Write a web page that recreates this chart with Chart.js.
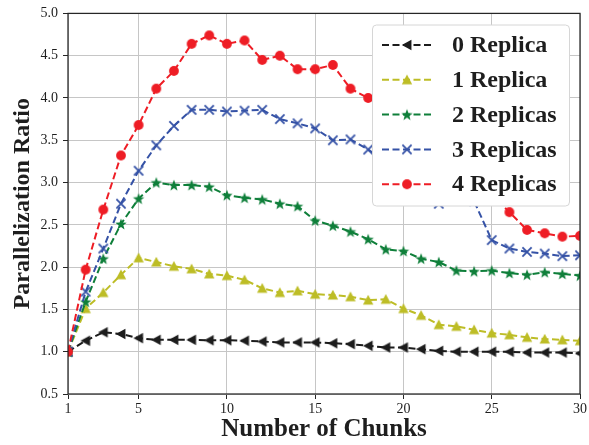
<!DOCTYPE html>
<html>
<head>
<meta charset="utf-8">
<title>Parallelization Ratio vs Number of Chunks</title>
<script src="https://cdn.jsdelivr.net/npm/chart.js@4.4.0/dist/chart.umd.min.js"></script>
<style>
  html, body { margin: 0; padding: 0; background: #ffffff; }
  canvas { display: block; }
</style>
</head>
<body>
<canvas id="c" width="589" height="445"></canvas>
<script>
// Number of chunks (x values)
const chunks = [1, 2, 3, 4, 5, 6, 7, 8, 9, 10, 11, 12, 13, 14, 15,
                16, 17, 18, 19, 20, 21, 22, 23, 24, 25, 26, 27, 28, 29, 30];

// Parallelization ratio per replica count
const replica0 = [1.00, 1.13, 1.23, 1.21, 1.16, 1.14, 1.14, 1.14, 1.135, 1.135,
                  1.13, 1.12, 1.11, 1.11, 1.11, 1.10, 1.09, 1.07, 1.05, 1.05,
                  1.03, 1.01, 1.00, 1.00, 1.00, 1.00, 0.99, 0.99, 0.99, 0.98];
const replica1 = [1.00, 1.51, 1.70, 1.91, 2.11, 2.06, 2.01, 1.98, 1.92, 1.90,
                  1.85, 1.75, 1.70, 1.72, 1.68, 1.67, 1.65, 1.61, 1.62, 1.51,
                  1.43, 1.32, 1.30, 1.26, 1.22, 1.20, 1.17, 1.15, 1.14, 1.13];
const replica2 = [1.00, 1.59, 2.10, 2.51, 2.81, 3.00, 2.97, 2.97, 2.95, 2.85,
                  2.82, 2.80, 2.75, 2.72, 2.55, 2.49, 2.42, 2.33, 2.21, 2.19,
                  2.10, 2.06, 1.96, 1.95, 1.96, 1.93, 1.91, 1.94, 1.92, 1.90];
const replica3 = [1.00, 1.71, 2.22, 2.75, 3.14, 3.44, 3.67, 3.86, 3.86, 3.84,
                  3.85, 3.86, 3.75, 3.70, 3.64, 3.50, 3.51, 3.39, 3.25, 3.08,
                  2.90, 2.75, 2.80, 2.78, 2.32, 2.22, 2.18, 2.16, 2.13, 2.14];
const replica4 = [1.00, 1.97, 2.68, 3.32, 3.68, 4.11, 4.32, 4.64, 4.74, 4.64,
                  4.68, 4.45, 4.50, 4.34, 4.34, 4.39, 4.11, 4.00, 3.96, 3.84,
                  3.70, 3.52, 3.33, 3.10, 2.86, 2.65, 2.44, 2.40, 2.36, 2.37];

const seriesLabels = ['0 Replica', '1 Replica', '2 Replicas', '3 Replicas', '4 Replicas'];
const seriesValues = [replica0, replica1, replica2, replica3, replica4];

// Axis ticks
const xTicks = [1, 5, 10, 15, 20, 25, 30];
const yMin = 0.5, yMax = 5.0, yStep = 0.5;

const SERIF = "'Liberation Serif', 'Times New Roman', serif";
const INK = '#1e1e1e';

// Series styling
const seriesColors = ['#1c1c1c', '#bdbd26', '#0f7f3a', '#3552a6', '#ee1d25'];
const seriesMarkers = ['triLeft', 'triUp', 'star', 'x', 'circle'];

// Build a small canvas for each marker shape
function makeMarker(kind, color) {
  const d = 16;
  const c = document.createElement('canvas');
  c.width = d; c.height = d;
  const g = c.getContext('2d');
  const m = d / 2;
  g.fillStyle = color;
  g.strokeStyle = color;
  g.beginPath();
  if (kind === 'circle') {
    g.arc(m, m, 4.9, 0, Math.PI * 2);
    g.fill();
  } else if (kind === 'triUp') {
    const r = 5.2;
    g.moveTo(m, m - r);
    g.lineTo(m + r, m + r * 0.85);
    g.lineTo(m - r, m + r * 0.85);
    g.closePath();
    g.fill();
  } else if (kind === 'triLeft') {
    const r = 5.2;
    g.moveTo(m - r, m);
    g.lineTo(m + r * 0.85, m - r);
    g.lineTo(m + r * 0.85, m + r);
    g.closePath();
    g.fill();
  } else if (kind === 'x') {
    const r = 4.6;
    g.lineWidth = 1.8;
    g.moveTo(m - r, m - r); g.lineTo(m + r, m + r);
    g.moveTo(m + r, m - r); g.lineTo(m - r, m + r);
    g.stroke();
  } else if (kind === 'star') {
    const ro = 6.0, ri = 2.5;
    for (let i = 0; i < 10; i++) {
      const ang = -Math.PI / 2 + i * Math.PI / 5;
      const rr = i % 2 === 0 ? ro : ri;
      const px = m + rr * Math.cos(ang), py = m + 0.6 + rr * Math.sin(ang);
      if (i === 0) g.moveTo(px, py); else g.lineTo(px, py);
    }
    g.closePath();
    g.fill();
  }
  return c;
}

const markerImages = seriesMarkers.map((k, i) => makeMarker(k, seriesColors[i]));
const DASH = [7, 3.5];

const datasets = seriesValues.map((vals, i) => ({
  label: seriesLabels[i],
  data: chunks.map((x, j) => ({ x: x, y: vals[j] })),
  borderColor: seriesColors[i],
  backgroundColor: seriesColors[i],
  borderWidth: 2,
  borderDash: DASH,
  pointStyle: markerImages[i],
  pointRadius: 5,
  pointHoverRadius: 5,
  tension: 0,
  fill: false,
  clip: 0,
  order: seriesValues.length - 1 - i
}));

// Axes frame drawn on top of the data
const framePlugin = {
  id: 'frame',
  afterDatasetsDraw(chart) {
    const { ctx, chartArea: a } = chart;
    ctx.save();
    ctx.strokeStyle = '#262626';
    ctx.lineWidth = 1.25;
    ctx.strokeRect(a.left, a.top, a.right - a.left, a.bottom - a.top);
    ctx.restore();
  }
};

// Legend box in the upper right of the plot
const legendPlugin = {
  id: 'boxLegend',
  afterDraw(chart) {
    const { ctx } = chart;
    const bx = 372.5, by = 25, bw = 197, bh = 181, rad = 4;
    ctx.save();
    ctx.beginPath();
    ctx.moveTo(bx + rad, by);
    ctx.arcTo(bx + bw, by, bx + bw, by + bh, rad);
    ctx.arcTo(bx + bw, by + bh, bx, by + bh, rad);
    ctx.arcTo(bx, by + bh, bx, by, rad);
    ctx.arcTo(bx, by, bx + bw, by, rad);
    ctx.closePath();
    ctx.fillStyle = '#ffffff';
    ctx.fill();
    ctx.strokeStyle = '#d6d6d6';
    ctx.lineWidth = 1;
    ctx.stroke();

    const rowY0 = 45, rowGap = 34.8;
    chart.data.datasets.forEach((ds, i) => {
      const y = rowY0 + i * rowGap;
      ctx.save();
      ctx.strokeStyle = ds.borderColor;
      ctx.lineWidth = 2;
      ctx.setLineDash(DASH);
      ctx.beginPath();
      ctx.moveTo(382, y);
      ctx.lineTo(432, y);
      ctx.stroke();
      ctx.restore();
      const img = ds.pointStyle;
      ctx.drawImage(img, 407 - img.width / 2, y - img.height / 2);
      ctx.fillStyle = INK;
      ctx.font = 'bold 24px ' + SERIF;
      ctx.textAlign = 'left';
      ctx.textBaseline = 'middle';
      ctx.fillText(ds.label, 452, y + 1);
    });
    ctx.restore();
  }
};

new Chart(document.getElementById('c'), {
  type: 'line',
  data: { datasets: datasets },
  plugins: [framePlugin, legendPlugin],
  options: {
    responsive: false,
    animation: false,
    devicePixelRatio: 1,
    layout: { padding: { top: 12, right: 8, left: 0, bottom: 0 } },
    plugins: {
      legend: { display: false },
      tooltip: { enabled: false }
    },
    scales: {
      x: {
        type: 'linear',
        min: chunks[0],
        max: chunks[chunks.length - 1],
        afterBuildTicks: axis => { axis.ticks = xTicks.map(v => ({ value: v })); },
        afterFit: s => { s.height = 51; },
        grid: { color: '#c6c6c6', lineWidth: 1, tickColor: '#262626', tickLength: 5, drawTicks: true },
        border: { display: false },
        ticks: {
          autoSkip: false, maxRotation: 0, padding: 2,
          color: INK, font: { family: SERIF, size: 14 },
          callback: v => String(v)
        },
        title: {
          display: true, text: 'Number of Chunks', color: INK,
          font: { family: SERIF, size: 25, weight: 'bold' },
          padding: { top: 0, bottom: 0 }
        }
      },
      y: {
        type: 'linear',
        min: yMin,
        max: yMax,
        afterFit: s => { s.width = 68; },
        grid: { color: '#c6c6c6', lineWidth: 1, tickColor: '#262626', tickLength: 5, drawTicks: true },
        border: { display: false },
        ticks: {
          stepSize: yStep, padding: 5,
          color: INK, font: { family: SERIF, size: 14 },
          callback: v => Number(v).toFixed(1)
        },
        title: {
          display: true, text: 'Parallelization Ratio', color: INK,
          font: { family: SERIF, size: 24, weight: 'bold' },
          padding: { top: 8, bottom: 0 }
        }
      }
    }
  }
});
</script>
</body>
</html>
